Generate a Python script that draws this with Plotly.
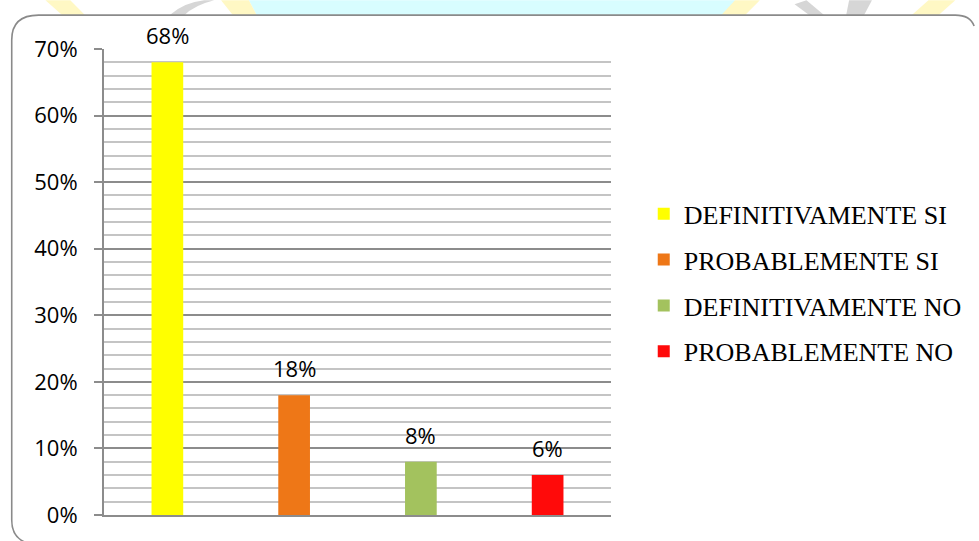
import plotly.graph_objects as go

# Survey answers and their shares
categories = ["DEFINITIVAMENTE SI", "PROBABLEMENTE SI", "DEFINITIVAMENTE NO", "PROBABLEMENTE NO"]
shares = [0.68, 0.18, 0.08, 0.06]
tick_values = [0.0, 0.1, 0.2, 0.3, 0.4, 0.5, 0.6, 0.7]
tick_labels = ["0%", "10%", "20%", "30%", "40%", "50%", "60%", "70%"]

bar_colors = ["#FFFF00", "#EE7717", "#A3C25E", "#FF0A0A"]

W, H = 979, 541
L, R, T, B = 104, 615, 49, 517  # plot area in pixels


def px(x, y):
    """Pixel position -> paper coordinates."""
    return (x - L) / (R - L), (B - y) / (B - T)


def path(points):
    parts = []
    for cmd, *pts in points:
        if cmd == "Z":
            parts.append("Z")
            continue
        coords = []
        for i in range(0, len(pts), 2):
            a, b = px(pts[i], pts[i + 1])
            coords.append(f"{a:.5f},{b:.5f}")
        parts.append(cmd + " ".join(coords))
    return " ".join(parts)


fig = go.Figure()
for i, (cat, val) in enumerate(zip(categories, shares)):
    fig.add_trace(go.Bar(
        x=[i], y=[val], name=cat, width=0.25,
        marker=dict(color=bar_colors[i], line=dict(width=0)),
        legendgroup=cat, hoverinfo="skip",
    ))
    fig.add_annotation(
        x=i, y=val, text=f"{round(val * 100)}%", showarrow=False,
        yanchor="bottom", yshift=10,
        font=dict(family="Open Sans", size=22, color="#000000"),
    )

shapes = []

# faint watermark strip above the chart frame
strip = [
    ("#D8FDFF", [("M", 250, 0), ("L", 740, 0), ("L", 733, 15), ("L", 258, 15), ("Z",)]),
    ("#FFF8C4", [("M", 45, 0), ("L", 70, 0), ("L", 85, 15), ("L", 62, 15), ("Z",)]),
    ("#FFF8C4", [("M", 222, 0), ("L", 250, 0), ("L", 258, 15), ("L", 234, 15), ("Z",)]),
    ("#FFF8C4", [("M", 740, 0), ("L", 765, 0), ("L", 750, 15), ("L", 726, 15), ("Z",)]),
    ("#FFF8C4", [("M", 935, 0), ("L", 962, 0), ("L", 945, 15), ("L", 918, 15), ("Z",)]),
    ("#D6D6D6", [("M", 170, 15), ("Q", 185, 2, 205, 0), ("L", 215, 0), ("Q", 195, 5, 185, 15), ("Z",)]),
    ("#D6D6D6", [("M", 800, 4), ("L", 812, 0), ("L", 830, 15), ("L", 815, 15), ("Z",)]),
    ("#D6D6D6", [("M", 855, 0), ("L", 878, 0), ("L", 870, 15), ("L", 852, 15), ("Z",)]),
]
for color, pts in strip:
    shapes.append(dict(type="path", xref="paper", yref="paper", layer="below",
                       path=path(pts), fillcolor=color, line=dict(width=0)))

# rounded chart frame
frame = path([
    ("M", 30, 546), ("Q", 11, 542, 11, 522), ("L", 11, 40), ("Q", 11, 15, 38, 15),
    ("L", 962, 15), ("Q", 977, 15, 981, 26),
])
shapes.append(dict(type="path", xref="paper", yref="paper", path=frame,
                   line=dict(color="#8A8A8A", width=1.6)))

fig.update_layout(
    width=W, height=H,
    margin=dict(l=L, r=W - R, t=T, b=H - B, pad=0),
    paper_bgcolor="#FFFFFF", plot_bgcolor="#FFFFFF",
    barmode="overlay", showlegend=True,
    shapes=shapes,
    legend=dict(
        x=px(648, 0)[0], y=px(0, 191)[1], xanchor="left", yanchor="top",
        font=dict(family="Liberation Serif", size=26, color="#000000"),
        tracegroupgap=9, bgcolor="rgba(0,0,0,0)", traceorder="grouped",
    ),
    xaxis=dict(
        range=[-0.5, 3.5], showticklabels=False, showgrid=False, zeroline=False,
        showline=True, linecolor="#8C8C8C", linewidth=2, ticks="",
    ),
    yaxis=dict(
        range=[0, 0.7], tickvals=tick_values, ticktext=tick_labels,
        showgrid=True, gridcolor="#8C8C8C", gridwidth=2, zeroline=False,
        showline=True, linecolor="#8C8C8C", linewidth=2,
        ticks="outside", ticklen=8, tickcolor="#8C8C8C", tickwidth=2,
        ticklabelstandoff=12,
        tickfont=dict(family="Open Sans", size=22, color="#000000"),
        minor=dict(dtick=0.02, showgrid=True, gridcolor="#C4C4C4", gridwidth=2, ticks=""),
    ),
)

fig.write_html("out.html")
